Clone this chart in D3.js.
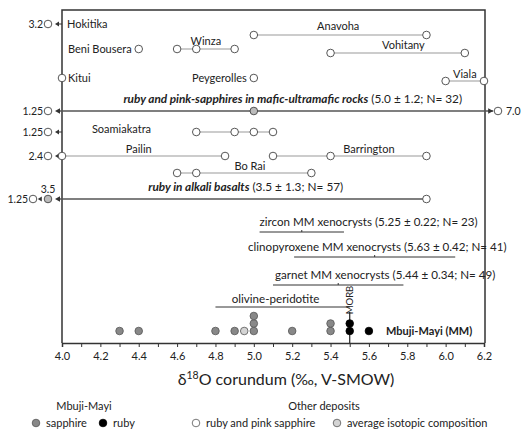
<!DOCTYPE html>
<html>
<head>
<meta charset="utf-8">
<script src="https://cdn.jsdelivr.net/npm/d3@7"></script>
<style>
  body { margin: 0; background: #fff; }
  text { font-family: Lato, "Open Sans", sans-serif; fill: #222; }
</style>
</head>
<body>
<svg width="521" height="433"></svg>
<script>
// deposits (ruby and pink sapphire), d18O values
const depositNames = ['Hokitika', 'Anavoha', 'Beni Bousera', 'Winza', 'Vohitany', 'Kitui',
  'Peygerolles', 'Viala', 'Soamiakatra', 'Pailin', 'Barrington', 'Bo Rai'];
const depositValues = [[3.2], [5.0, 5.9], [4.4], [4.6, 4.7, 4.9], [5.4, 6.1], [4.0],
  [5.0], [6.0, 6.2], [1.25, 4.7, 4.9, 5.0, 5.1], [2.4, 4.0, 4.85], [5.1, 5.4, 5.9], [4.6, 4.7, 5.3]];

// groups with mean / sd / N and total range
const groupNames = ['ruby and pink-sapphires in mafic-ultramafic rocks', 'ruby in alkali basalts'];
const groupMeans = [5.0, 3.5];
const groupSd = [1.2, 1.3];
const groupN = [32, 57];
const groupRanges = [[1.25, 7.0], [1.25, 5.9]];

// mantle xenocrysts from Mbuji-Mayi
const xenoNames = ['zircon', 'clinopyroxene', 'garnet'];
const xenoMeans = [5.25, 5.63, 5.44];
const xenoSd = [0.22, 0.42, 0.34];
const xenoN = [23, 41, 49];
const olivineRange = [4.8, 5.5];
const morb = 5.5;

// Mbuji-Mayi corundum
const mmSapphire = [4.3, 4.4, 4.8, 4.9, 5.0, 5.0, 5.0, 5.2, 5.4, 5.4];
const mmRuby = [5.5, 5.5, 5.6];
const mmAverage = [4.95];

const xTicks = d3.range(40, 63).map(d => d / 10);

// ---- layout ----
const svg = d3.select('svg');
const x = d3.scaleLinear().domain([4.0, 6.2]).range([62, 484]);
const plotTop = 10, axisY = 343;
const rowY = {
  'Hokitika': 24, 'Anavoha': 35, 'Beni Bousera': 49, 'Winza': 49, 'Vohitany': 53,
  'Kitui': 78, 'Peygerolles': 78, 'Viala': 81, 'Soamiakatra': 132, 'Pailin': 156,
  'Barrington': 156, 'Bo Rai': 173
};
// label: anchor value, text-anchor, dx, dy
const labelPos = {
  'Hokitika': [4.0, 'start', 5, 4], 'Anavoha': [5.44, 'middle', 0, -5],
  'Beni Bousera': [4.4, 'end', -7, 4], 'Winza': [4.75, 'middle', 0, -4],
  'Vohitany': [5.78, 'middle', 0, -4], 'Kitui': [4.0, 'start', 6, 4],
  'Peygerolles': [5.0, 'end', -7, 4], 'Viala': [6.1, 'middle', 0, -3],
  'Soamiakatra': [4.31, 'middle', 0, 1], 'Pailin': [4.4, 'middle', 0, -3],
  'Barrington': [5.6, 'middle', 0, -3], 'Bo Rai': [4.98, 'middle', 0, -3]
};
const groupY = [111, 199];
const offLeft = [48, 33];   // slots for values off the left of the scale
const offRight = 498;
const xenoY = [232, 257, 285];
const xenoLabelStart = [5.03, 4.97, 5.11];
const r = 3.8;

const g = svg.append('g');

// frame
g.append('path')
  .attr('d', `M${x(4.0)},${axisY}V${plotTop}H${x(6.2) + 1}V${axisY}`)
  .attr('fill', 'none').attr('stroke', '#333').attr('stroke-width', 1.5);

// axis
const axis = g.append('g')
  .attr('transform', `translate(0,${axisY})`)
  .call(d3.axisBottom(x).tickValues(xTicks).tickSize(4)
    .tickFormat(d => Math.round(d * 10) % 2 === 0 ? d3.format('.1f')(d) : ''));
axis.select('.domain').attr('stroke', '#333').attr('stroke-width', 1.5);
axis.selectAll('.tick line').attr('stroke', '#333');
axis.selectAll('.tick text').attr('font-size', 11).attr('dy', '0.9em')
  .style('font-family', 'Lato, sans-serif').attr('fill', '#222');

g.append('text')
  .attr('x', 286).attr('y', 385).attr('text-anchor', 'middle').attr('font-size', 16)
  .html('δ<tspan baseline-shift="super" font-size="10.5">18</tspan>O corundum (‰, V-SMOW)');

function arrowLeft(sel, xTip, y, x0) {
  sel.append('line').attr('x1', x0).attr('x2', xTip + 2).attr('y1', y).attr('y2', y)
    .attr('stroke', '#333').attr('stroke-width', 1);
  sel.append('path').attr('d', `M${xTip},${y}l4,-2.5v5z`).attr('fill', '#333');
}
function circle(sel, cx, cy, fill) {
  sel.append('circle').attr('cx', cx).attr('cy', cy).attr('r', r)
    .attr('fill', fill).attr('stroke', '#444').attr('stroke-width', 0.9);
}

// deposits
depositNames.forEach((name, i) => {
  const y = rowY[name];
  const vals = depositValues[i];
  const inside = vals.filter(v => v >= 4.0);
  const outside = vals.filter(v => v < 4.0);
  const dg = g.append('g');
  if (inside.length > 1) {
    dg.append('line').attr('x1', x(d3.min(inside))).attr('x2', x(d3.max(inside)))
      .attr('y1', y).attr('y2', y).attr('stroke', '#999').attr('stroke-width', 1);
  }
  outside.forEach((v, k) => {
    arrowLeft(dg, 55, y, x(4.0));
    circle(dg, offLeft[k], y, '#fff');
    dg.append('text').attr('x', offLeft[k] - r - 1).attr('y', y + 4)
      .attr('text-anchor', 'end').attr('font-size', 10.5).text(v);
  });
  inside.forEach(v => circle(dg, x(v), y, '#fff'));
  const lp = labelPos[name];
  dg.append('text').attr('x', x(lp[0]) + lp[2]).attr('y', y + lp[3])
    .attr('text-anchor', lp[1]).attr('font-size', 11).text(name);
});

// group summary lines
groupNames.forEach((name, i) => {
  const y = groupY[i];
  const [lo, hi] = groupRanges[i];
  const gg = g.append('g');
  const xr = hi > 6.2 ? offRight - r - 1 : x(hi);
  gg.append('line').attr('x1', 57).attr('x2', xr).attr('y1', y).attr('y2', y)
    .attr('stroke', '#555').attr('stroke-width', 1.3);
  gg.append('path').attr('d', `M55,${y}l5,-2.8v5.6z`).attr('fill', '#333');
  if (hi > 6.2) {
    gg.append('path').attr('d', `M${offRight - r - 1},${y}l-5,-2.8v5.6z`).attr('fill', '#333');
    circle(gg, offRight, y, '#fff');
    gg.append('text').attr('x', offRight + 8).attr('y', y + 4).attr('font-size', 10.5).text(hi.toFixed(1));
  } else {
    circle(gg, x(hi), y, '#fff');
  }
  if (groupMeans[i] >= 4.0) {
    circle(gg, x(groupMeans[i]), y, '#bbb');
    circle(gg, offLeft[0], y, '#fff');
    gg.append('text').attr('x', offLeft[0] - r - 1).attr('y', y + 4)
      .attr('text-anchor', 'end').attr('font-size', 10.5).text(lo);
  } else {
    circle(gg, offLeft[0], y, '#bbb');
    gg.append('text').attr('x', offLeft[0]).attr('y', y - 6)
      .attr('text-anchor', 'middle').attr('font-size', 10.5).text(groupMeans[i]);
    gg.append('path').attr('d', `M${offLeft[1] + r + 1},${y}l4,-2.5v5z`).attr('fill', '#333');
    circle(gg, offLeft[1], y, '#fff');
    gg.append('text').attr('x', offLeft[1] - r - 1).attr('y', y + 4)
      .attr('text-anchor', 'end').attr('font-size', 10.5).text(lo);
  }
  const t = gg.append('text').attr('x', i === 0 ? x(4.32) : x(4.45)).attr('y', y - 8)
    .attr('font-size', 11.8);
  t.append('tspan').attr('font-weight', 'bold').attr('font-style', 'italic').text(name);
  t.append('tspan').text(` (${groupMeans[i].toFixed(1)} ± ${groupSd[i]}; N= ${groupN[i]})`);
});

// xenocrysts
xenoNames.forEach((name, i) => {
  const y = xenoY[i];
  const m = xenoMeans[i], s = xenoSd[i];
  g.append('line').attr('x1', x(m - s)).attr('x2', x(m + s)).attr('y1', y).attr('y2', y)
    .attr('stroke', '#333').attr('stroke-width', 1);
  g.append('line').attr('x1', x(m)).attr('x2', x(m)).attr('y1', y - 2).attr('y2', y)
    .attr('stroke', '#333').attr('stroke-width', 1);
  g.append('text').attr('x', x(xenoLabelStart[i])).attr('y', y - 6).attr('font-size', 11.6)
    .text(`${name} MM xenocrysts  (${m.toFixed(2)} ± ${s.toFixed(2)}; N= ${xenoN[i]})`);
});

// olivine-peridotite and MORB
g.append('line').attr('x1', x(olivineRange[0])).attr('x2', x(olivineRange[1]))
  .attr('y1', 307).attr('y2', 307).attr('stroke', '#333');
g.append('text').attr('x', x(4.885)).attr('y', 303)
  .attr('font-size', 11.6).text('olivine-peridotite');
g.append('line').attr('x1', x(morb)).attr('x2', x(morb)).attr('y1', 312).attr('y2', axisY)
  .attr('stroke', '#222').attr('stroke-width', 1.2);
g.append('text').attr('transform', `translate(${x(morb) + 3.5},300) rotate(-90)`)
  .attr('text-anchor', 'middle').attr('font-size', 9.5).text('MORB');

// Mbuji-Mayi dots, stacked where equal
function stackDots(vals, fill) {
  const seen = {};
  vals.forEach(v => {
    const k = seen[v] || 0;
    seen[v] = k + 1;
    g.append('circle').attr('cx', x(v)).attr('cy', 331 - 7.5 * k).attr('r', r)
      .attr('fill', fill).attr('stroke', fill === '#000' ? '#000' : '#555').attr('stroke-width', 0.8);
  });
}
stackDots(mmSapphire, '#888');
stackDots(mmAverage, '#d4d4d4');
stackDots(mmRuby, '#000');
g.append('text').attr('x', 386).attr('y', 335).attr('font-size', 11).attr('font-weight', 'bold')
  .text('Mbuji-Mayi (MM)');

// legend
const lg = svg.append('g');
lg.append('text').attr('x', 84).attr('y', 410).attr('text-anchor', 'middle').attr('font-size', 11).text('Mbuji-Mayi');
lg.append('text').attr('x', 324).attr('y', 410).attr('text-anchor', 'middle').attr('font-size', 11).text('Other deposits');
const legendItems = [
  ['sapphire', '#888', 36], ['ruby', '#000', 103],
  ['ruby and pink sapphire', '#fff', 196], ['average isotopic composition', '#d4d4d4', 337]
];
legendItems.forEach(([label, fill, lx]) => {
  lg.append('circle').attr('cx', lx).attr('cy', 423).attr('r', r)
    .attr('fill', fill).attr('stroke', fill === '#000' ? '#000' : '#555').attr('stroke-width', 0.8);
  lg.append('text').attr('x', lx + 10).attr('y', 427).attr('font-size', 11).text(label);
});
</script>
</body>
</html>
